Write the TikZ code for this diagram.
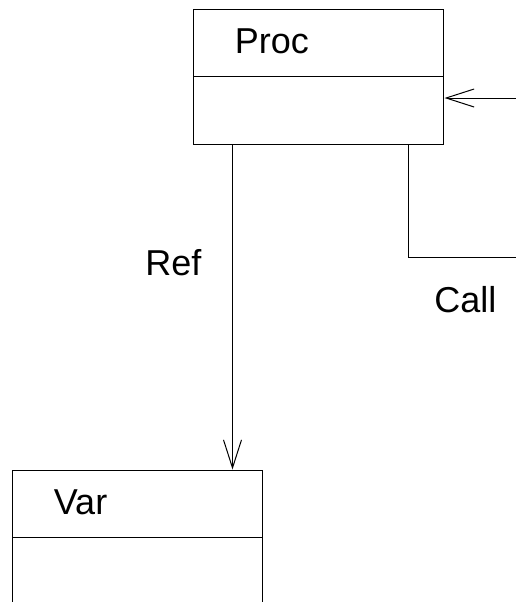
\documentclass[tikz,border=0pt]{standalone}
\usepackage{fontspec}
\setmainfont{Liberation Sans}
\usetikzlibrary{arrows.meta}

\tikzset{
    classbox/.style={draw, line width=0.5pt, minimum width=125pt, minimum height=67.5pt, inner sep=0pt},
    classname/.style={anchor=base west, inner sep=0pt, font=\fontsize{18}{22}\selectfont},
    linklabel/.style={anchor=base west, inner sep=0pt, font=\fontsize{18}{22}\selectfont},
    link/.style={line width=0.5pt, -{Straight Barb[length=14pt, width=9pt]}}
}

\begin{document}
\begin{tikzpicture}[x=0.5pt, y=-0.5pt]
    \useasboundingbox (0,0) rectangle (516,602);
    \clip (0,0) rectangle (516,602);

    % Class boxes
    \node[classbox] (proc) at (319,76.5) {};
    \node[classbox] (var) at (138,537.5) {};

    % Compartment lines
    \draw[line width=0.5pt] ([yshift=-34pt]proc.north west) -- ([yshift=-34pt]proc.north east);
    \draw[line width=0.5pt] ([yshift=-34pt]var.north west) -- ([yshift=-34pt]var.north east);

    % Class names
    \node[classname] (procname) at ([xshift=20.5pt, yshift=-22.5pt]proc.north west) {Proc};
    \node[classname] (varname) at ([xshift=20.5pt, yshift=-22.5pt]var.north west) {Var};

    % Ref association
    \coordinate (refstart) at ([xshift=19.5pt]proc.south west);
    \draw[link] (refstart) -- (refstart |- var.north);
    \node[linklabel] (reflabel) at (145,275) {Ref};

    % Call self association
    \coordinate (callstart) at ([xshift=-18pt]proc.south east);
    \coordinate (callcorner) at (540,257);
    \draw[link] (callstart) |- (callcorner) |- ([yshift=-10.75pt]proc.east);
    \node[linklabel] (calllabel) at (434,312) {Call};
\end{tikzpicture}
\end{document}
